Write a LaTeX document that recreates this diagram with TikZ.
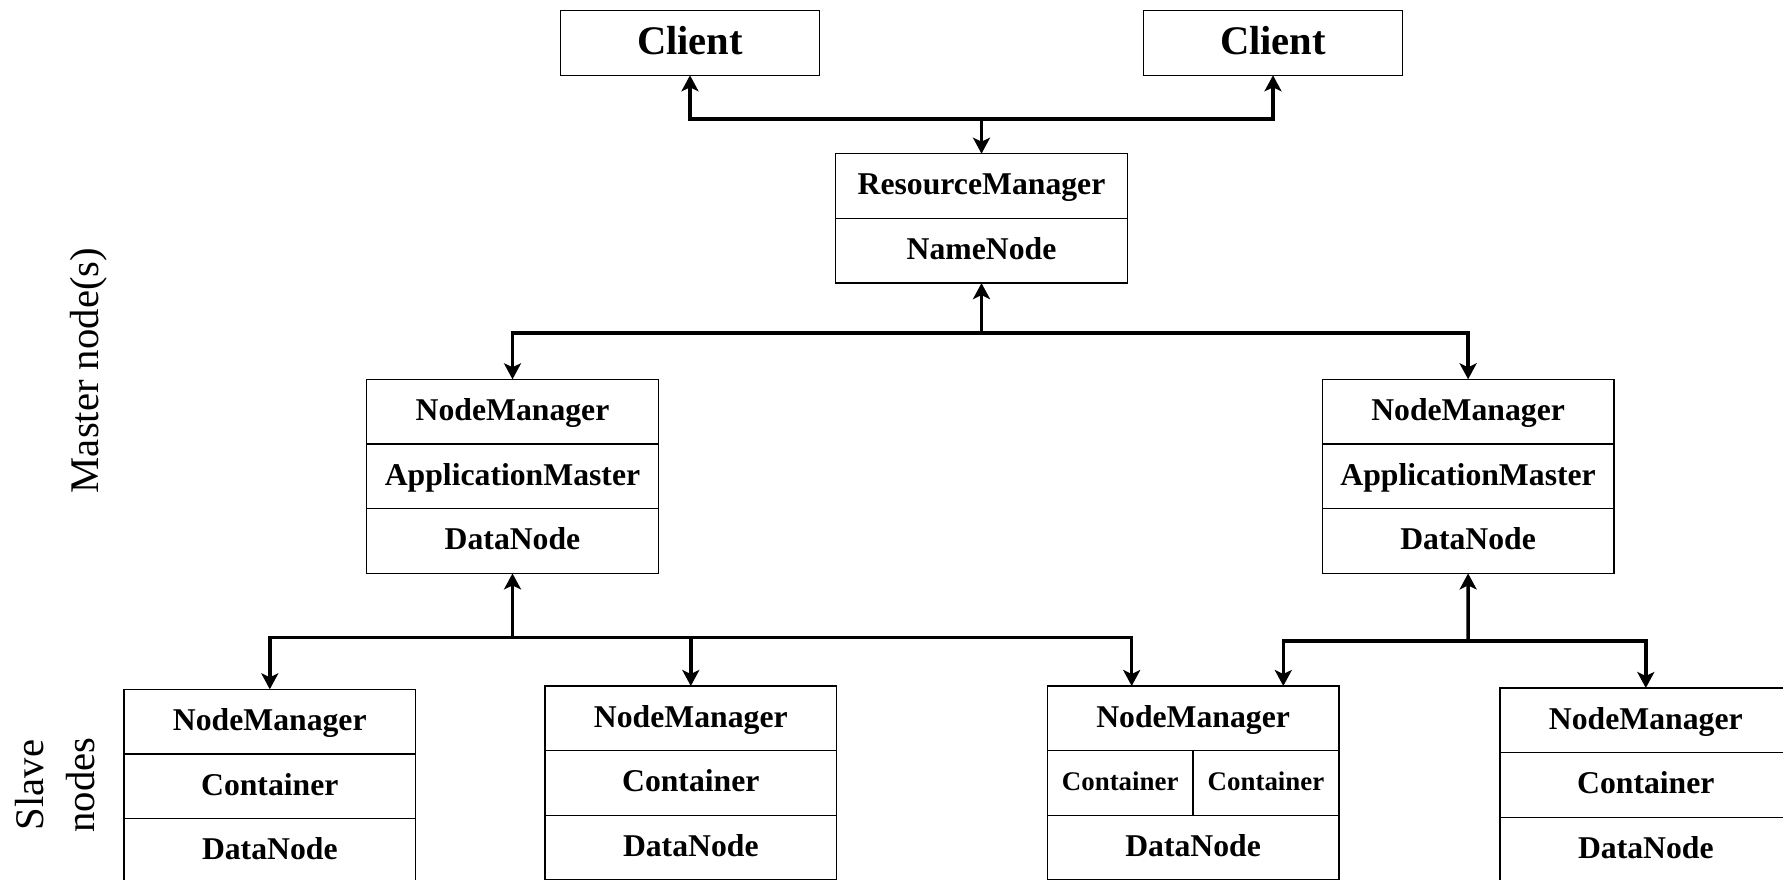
\documentclass[tikz,border=0pt]{standalone}
\usepackage{fontspec}
\setmainfont{Liberation Serif}
\usetikzlibrary{arrows.meta}
\begin{document}
\begin{tikzpicture}[x=1pt,y=-1pt,
  cell/.style={draw=black, line width=1.3pt, minimum width=291.6pt, minimum height=64.7pt,
    inner sep=0pt, outer sep=0pt, anchor=north west, text height=21pt, text depth=3.2pt,
    font=\fontsize{31.7}{38}\selectfont\bfseries},
  halfcell/.style={cell, minimum width=145.8pt, text height=17.8pt, text depth=2.7pt,
    font=\fontsize{26.9}{32}\selectfont\bfseries},
  clientbox/.style={cell, minimum width=259.4pt, minimum height=65pt, text height=26.8pt, text depth=4.1pt,
    font=\fontsize{40.6}{48}\selectfont\bfseries},
  conn/.style={line width=3.5pt, -{Stealth[length=16pt,width=17pt,inset=4pt]}},
  sidelabel/.style={rotate=90, align=center, font=\fontsize{40.7}{51}\selectfont}
]
\useasboundingbox[fill=white] (0,0) rectangle (1783,879);
\clip (0,0) rectangle (1783,879);

% Clients
\node[clientbox] (c1) at (560.3,10.3) {Client};
\node[clientbox] (c2) at (1143.3,10.3) {Client};

% ResourceManager / NameNode
\node[cell] (rm1) at (835.7,153.7) {ResourceManager};
\node[cell] (rm2) at (rm1.south west) {NameNode};

% Master NodeManagers
\node[cell] (nm1a) at (366.7,379.3) {NodeManager};
\node[cell] (nm1b) at (nm1a.south west) {ApplicationMaster};
\node[cell] (nm1c) at (nm1b.south west) {DataNode};

\node[cell] (nm2a) at (1322.3,379.3) {NodeManager};
\node[cell] (nm2b) at (nm2a.south west) {ApplicationMaster};
\node[cell] (nm2c) at (nm2b.south west) {DataNode};

% Slave nodes
\node[cell] (s1a) at (124,689.3) {NodeManager};
\node[cell] (s1b) at (s1a.south west) {Container};
\node[cell] (s1c) at (s1b.south west) {DataNode};

\node[cell] (s2a) at (545,686) {NodeManager};
\node[cell] (s2b) at (s2a.south west) {Container};
\node[cell] (s2c) at (s2b.south west) {DataNode};

\node[cell] (s3a) at (1047.3,686) {NodeManager};
\node[halfcell] (s3b) at (s3a.south west) {Container};
\node[halfcell] (s3d) at (s3b.north east) {Container};
\node[cell] (s3c) at (s3b.south west) {DataNode};

\node[cell] (s4a) at (1500,688) {NodeManager};
\node[cell] (s4b) at (s4a.south west) {Container};
\node[cell] (s4c) at (s4b.south west) {DataNode};

% Side labels
\node[sidelabel] (master) at (89,370.6) {Master node(s)};
\node[sidelabel] (slave) at (55,785) {Slave\\nodes};

% Connectors
\coordinate (j1) at (981.5,119);
\draw[conn] (j1) -- (rm1.north);
\draw[conn] (j1) -| (c1.south);
\draw[conn] (j1) -| (c2.south);

\coordinate (j2) at (981.5,333);
\draw[conn] (j2) -- (rm2.south);
\draw[conn] (j2) -| (nm1a.north);
\draw[conn] (j2) -| (nm2a.north);

\coordinate (j3) at (512.5,637.7);
\draw[conn] (j3) -- (nm1c.south);
\draw[conn] (j3) -| (s1a.north);
\draw[conn] (j3) -| (s2a.north);
\draw[conn] (j3) -| ([xshift=84.4pt]s3a.north west);

\coordinate (j4) at (1468.2,641);
\draw[conn] (j4) -- (nm2c.south);
\draw[conn] (j4) -| ([xshift=236pt]s3a.north west);
\draw[conn] (j4) -| (s4a.north);
\end{tikzpicture}
\end{document}
